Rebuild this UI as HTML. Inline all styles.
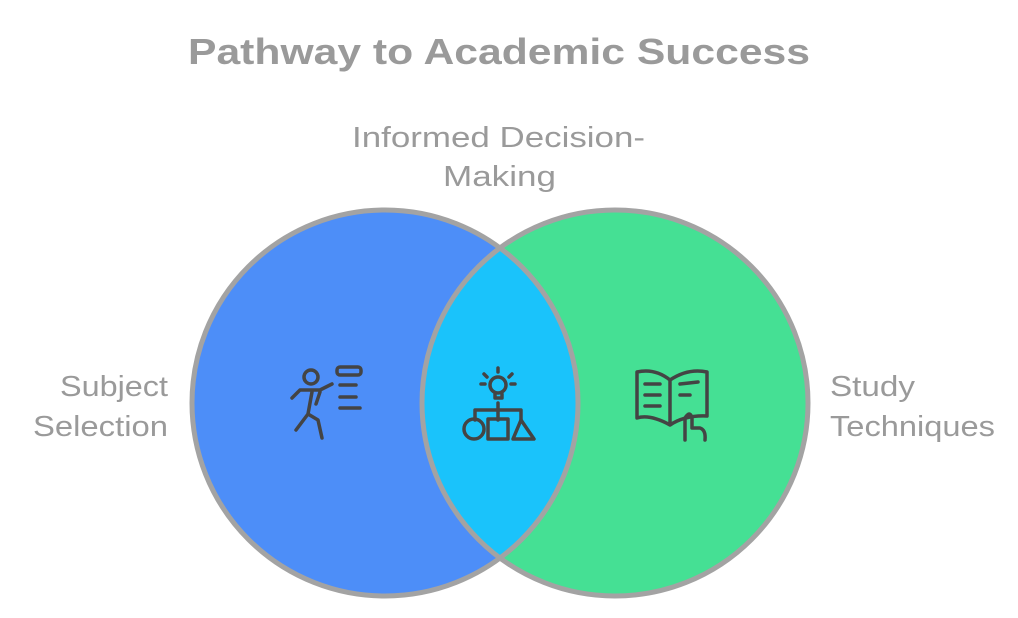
<!DOCTYPE html>
<html><head><meta charset="utf-8"><style>
html,body{margin:0;padding:0;background:#fff;}
svg{display:block;}
text{font-family:"Liberation Sans",sans-serif;fill:#9a9a9a;}
</style></head><body>
<svg width="1018" height="618" viewBox="0 0 1018 618">
<defs>
<clipPath id="cl"><circle cx="385" cy="403" r="193"/></clipPath>
</defs>
<circle cx="385" cy="403" r="193" fill="#4d8ef8"/>
<circle cx="615" cy="403" r="193" fill="#45e094"/>
<circle cx="615" cy="403" r="193" fill="#1ac3fb" clip-path="url(#cl)"/>
<circle cx="385" cy="403" r="193" fill="none" stroke="#a3a3a3" stroke-width="5"/>
<circle cx="615" cy="403" r="193" fill="none" stroke="#a3a3a3" stroke-width="5"/>
<text x="188" y="64" font-size="36" font-weight="bold" textLength="622" lengthAdjust="spacingAndGlyphs">Pathway to Academic Success</text>
<text x="352" y="147" font-size="29" textLength="293" lengthAdjust="spacingAndGlyphs">Informed Decision-</text>
<text x="443" y="186" font-size="29" textLength="113" lengthAdjust="spacingAndGlyphs">Making</text>
<text x="60" y="396" font-size="29" textLength="108" lengthAdjust="spacingAndGlyphs">Subject</text>
<text x="33" y="436" font-size="29" textLength="135" lengthAdjust="spacingAndGlyphs">Selection</text>
<text x="830" y="396" font-size="29" textLength="85" lengthAdjust="spacingAndGlyphs">Study</text>
<text x="830" y="436" font-size="29" textLength="165" lengthAdjust="spacingAndGlyphs">Techniques</text>
<g fill="none" stroke="#444" stroke-width="3.5" stroke-linecap="round" stroke-linejoin="round">
<circle cx="311" cy="377" r="7"/>
<path d="M292 398 L300 390 L320 390 L332 384 M312 392 L308 414 L296 430 M308 414 L318 420 L322 438 M320 392 L316 404"/>
<rect x="337" y="367" width="24" height="8" rx="3"/>
<path d="M340 385 L356 385 M340 397 L356 397 M340 408 L360 408"/>
<circle cx="498" cy="385" r="8"/>
<path d="M495 394 L495 398 L502 398 L502 394 M498 403 L498 410 M475 410 L521 410 L521 420 M475 410 L475 420 M498 410 L498 420 M498 368 L498 372 M484 374 L487 377 M512 374 L509 377 M481 384 L485 384 M511 384 L515 384"/>
<circle cx="474" cy="429" r="10"/>
<rect x="488" y="419" width="20" height="20"/>
<path d="M521 420 L534 439 L513 439 Z"/>
<path d="M637 372 L637 418 Q650 414 670 425 Q685 415 707 416 L707 372 Q688 368 670 380 Q655 368 637 372 Z M670 380 L670 425"/>
<path d="M645 384 L660 384 M645 395 L660 395 M645 406 L660 406 M680 384 L698 382 M680 395 L690 395"/>
<path d="M685 440 L685 418 Q690 410 692 418 L692 428 L700 428 Q706 430 705 440"/>
</g>
</svg>
</body></html>
